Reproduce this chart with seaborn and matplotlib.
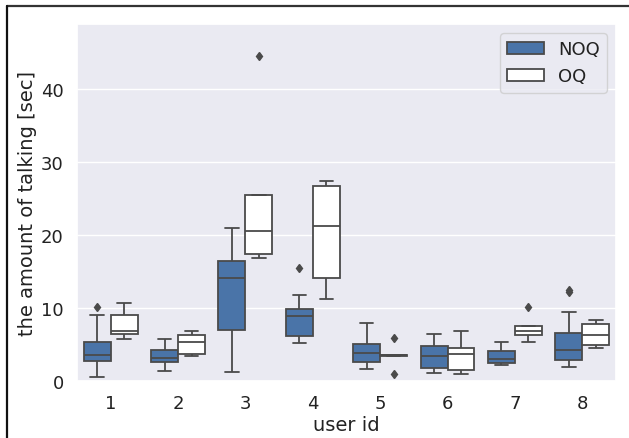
import matplotlib
matplotlib.use("Agg")
import matplotlib.pyplot as plt
import seaborn as sns
import pandas as pd
from matplotlib.lines import Line2D

# observations per user id (sec of talking)
users = ["1", "2", "3", "4", "5", "6", "7", "8"]
conditions = ["NOQ", "OQ"]

noq_values = {
    "1": [0.5, 2.0, 2.8, 3.2, 3.5, 4.5, 5.4, 9.1, 10.1],
    "2": [1.4, 2.2, 2.55, 2.9, 3.1, 3.7, 4.25, 5.0, 5.7],
    "3": [1.2, 5.0, 7.0, 11.0, 14.1, 15.5, 16.5, 19.0, 21.0],
    "4": [5.25, 5.8, 6.1, 7.5, 8.9, 9.3, 9.8, 11.8, 15.5],
    "5": [1.7, 2.2, 2.55, 3.2, 3.8, 4.5, 5.1, 6.5, 8.0],
    "6": [1.15, 1.5, 1.8, 2.6, 3.4, 4.2, 4.8, 5.8, 6.5],
    "7": [2.2, 2.3, 2.4, 2.7, 3.05, 3.5, 4.05, 4.8, 5.4],
    "8": [1.9, 2.2, 2.5, 2.9, 3.5, 3.9, 4.2, 5.0, 6.0, 6.6, 9.4, 12.2, 12.4],
}
oq_values = {
    "1": [5.8, 6.2, 6.5, 6.6, 6.8, 8.0, 9.0, 10.0, 10.7],
    "2": [3.4, 3.5, 3.65, 4.5, 5.4, 5.9, 6.3, 6.6, 6.9],
    "3": [16.8, 17.1, 17.4, 19.0, 20.5, 23.0, 25.5, 25.5, 44.5],
    "4": [11.2, 12.5, 14.1, 18.0, 21.3, 24.0, 26.7, 27.0, 27.4],
    "5": [0.95, 3.4, 3.4, 3.45, 3.5, 3.55, 3.6, 3.6, 5.9],
    "6": [0.9, 1.2, 1.5, 2.5, 3.65, 4.0, 4.5, 5.5, 6.8],
    "7": [5.4, 5.9, 6.25, 6.5, 6.85, 7.2, 7.6, 7.6, 10.1],
    "8": [4.5, 4.7, 4.9, 5.6, 6.3, 7.0, 7.75, 8.1, 8.4],
}

rows = []
for u in users:
    for v in noq_values[u]:
        rows.append({"user id": u, "cond": "NOQ", "talk": v})
    for v in oq_values[u]:
        rows.append({"user id": u, "cond": "OQ", "talk": v})
df = pd.DataFrame(rows)

sns.set_theme(style="darkgrid")
plt.rcParams["font.family"] = ["DejaVu Sans"]

fig = plt.figure(figsize=(6.29, 4.39), dpi=100)
ax = fig.add_axes([0.1224, 0.1298, 0.8569, 0.8132])

line_col = "#4a4a4a"
sns.boxplot(
    data=df, x="user id", y="talk", hue="cond", order=users, hue_order=conditions,
    palette={"NOQ": "#4a74a8", "OQ": "#ffffff"}, saturation=1, width=0.8,
    linecolor=line_col, linewidth=1.3,
    flierprops=dict(marker="d", markerfacecolor=line_col, markeredgecolor=line_col, markersize=4.5),
    ax=ax,
)

ax.set_ylim(0, 48.9)
ax.set_yticks([0, 10, 20, 30, 40])
ax.set_xlabel("user id", fontsize=14, labelpad=2, color="#222222")
ax.set_ylabel("the amount of talking [sec]", fontsize=14, labelpad=3, color="#222222")
ax.tick_params(axis="both", labelsize=13, labelcolor="#222222")

leg = ax.legend(loc="upper right", fontsize=13, title=None, frameon=True)
for t in leg.get_texts():
    t.set_color("#222222")

# partial frame seen at top and left of the picture
fig.add_artist(Line2D([0.011, 1.0], [0.984, 0.984], transform=fig.transFigure, color="#333333", linewidth=1.6))
fig.add_artist(Line2D([0.011, 0.011], [0.0, 0.984], transform=fig.transFigure, color="#111111", linewidth=1.6))

fig.savefig("out.png", dpi=100)
